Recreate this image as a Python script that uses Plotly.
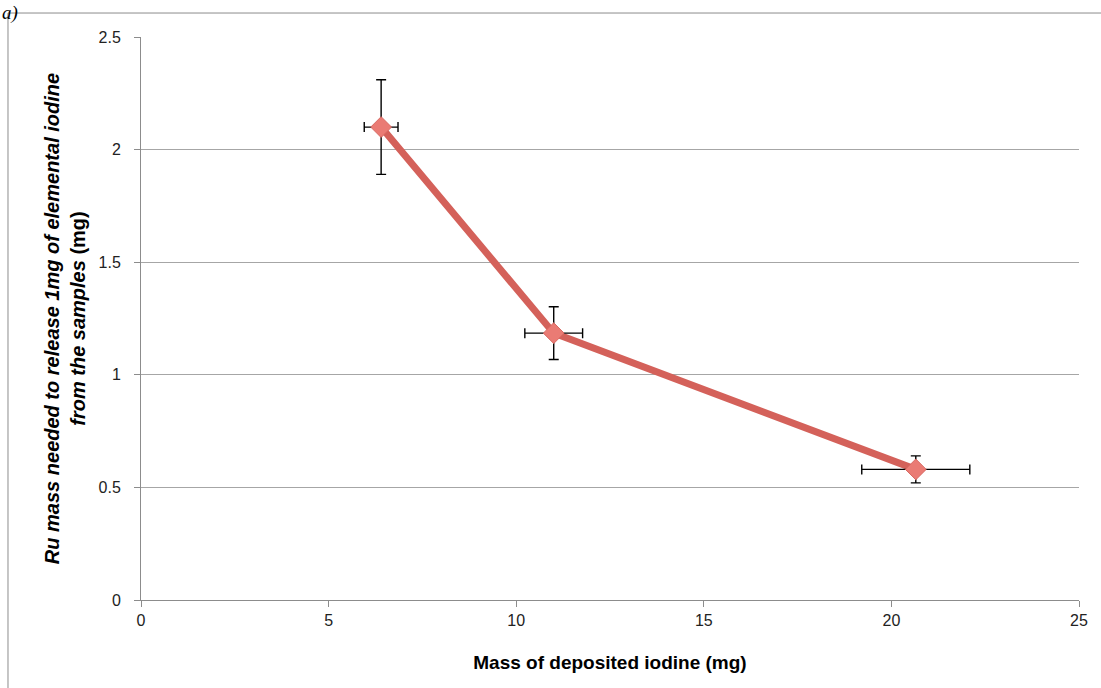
import plotly.graph_objects as go

mass_iodine = [6.4, 11.0, 20.65]
ru_mass = [2.10, 1.185, 0.58]
x_err = [0.45, 0.77, 1.44]
y_err = [0.21, 0.117, 0.06]

x_ticks = [0, 5, 10, 15, 20, 25]
y_ticks = [0, 0.5, 1, 1.5, 2, 2.5]
y_tick_text = ["0", "0.5", "1", "1.5", "2", "2.5"]

FONT = "Liberation Sans, Arial"
AXIS_GRAY = "#8c8c8c"

fig = go.Figure()
fig.add_trace(go.Scatter(
    x=mass_iodine, y=ru_mass, mode="lines",
    line=dict(color="#d4615a", width=7), hoverinfo="skip", showlegend=False))
fig.add_trace(go.Scatter(
    x=mass_iodine, y=ru_mass, mode="markers",
    marker=dict(symbol="diamond", size=16, color="#ea7b74",
                line=dict(color="#d96a63", width=1)),
    error_x=dict(type="data", array=x_err, color="black", thickness=1.4, width=5),
    error_y=dict(type="data", array=y_err, color="black", thickness=1.4, width=5),
    showlegend=False))

fig.update_layout(
    width=1101, height=688,
    margin=dict(l=141, r=22, t=37, b=88, autoexpand=False),
    paper_bgcolor="white", plot_bgcolor="white",
    font=dict(family=FONT, size=16, color="black"),
    xaxis=dict(range=[0, 25], tickvals=x_ticks, showgrid=False, zeroline=False,
               showline=True, linecolor=AXIS_GRAY, linewidth=1,
               ticks="outside", ticklen=6, tickcolor=AXIS_GRAY,
               ticklabelstandoff=0, automargin=False,
               tickfont=dict(size=16, family=FONT, color="#222222"),
               title=dict(text="<b>Mass of deposited iodine (mg)</b>",
                          font=dict(size=19, family=FONT), standoff=27)),
    yaxis=dict(range=[0, 2.5], tickvals=y_ticks, ticktext=y_tick_text,
               showgrid=True, gridcolor="#a6a6a6", gridwidth=1, zeroline=False,
               showline=True, linecolor=AXIS_GRAY, linewidth=1,
               ticks="outside", ticklen=6, tickcolor=AXIS_GRAY,
               ticklabelstandoff=10, automargin=False,
               tickfont=dict(size=16, family=FONT, color="#222222"),
               title=dict(text="<b><i>Ru mass needed to release 1mg of elemental iodine</i></b><br><b><i>from the samples</i> (mg)</b>",
                          font=dict(size=20, family=FONT), standoff=7)),
)

fig.add_shape(type="rect", xref="paper", yref="paper",
              x0=-0.1418, x1=1.2, y0=-0.3, y1=1.0426,
              line=dict(color=AXIS_GRAY, width=1), layer="below")

fig.add_annotation(text="<i>a)</i>", xref="paper", yref="paper",
                   x=-0.150, y=1.066, xanchor="left", yanchor="top",
                   showarrow=False, font=dict(family="Liberation Serif", size=19))

fig.write_html("out.html", config={"displayModeBar": False},
               post_script="document.body.style.margin='0';document.body.style.padding='0';")
